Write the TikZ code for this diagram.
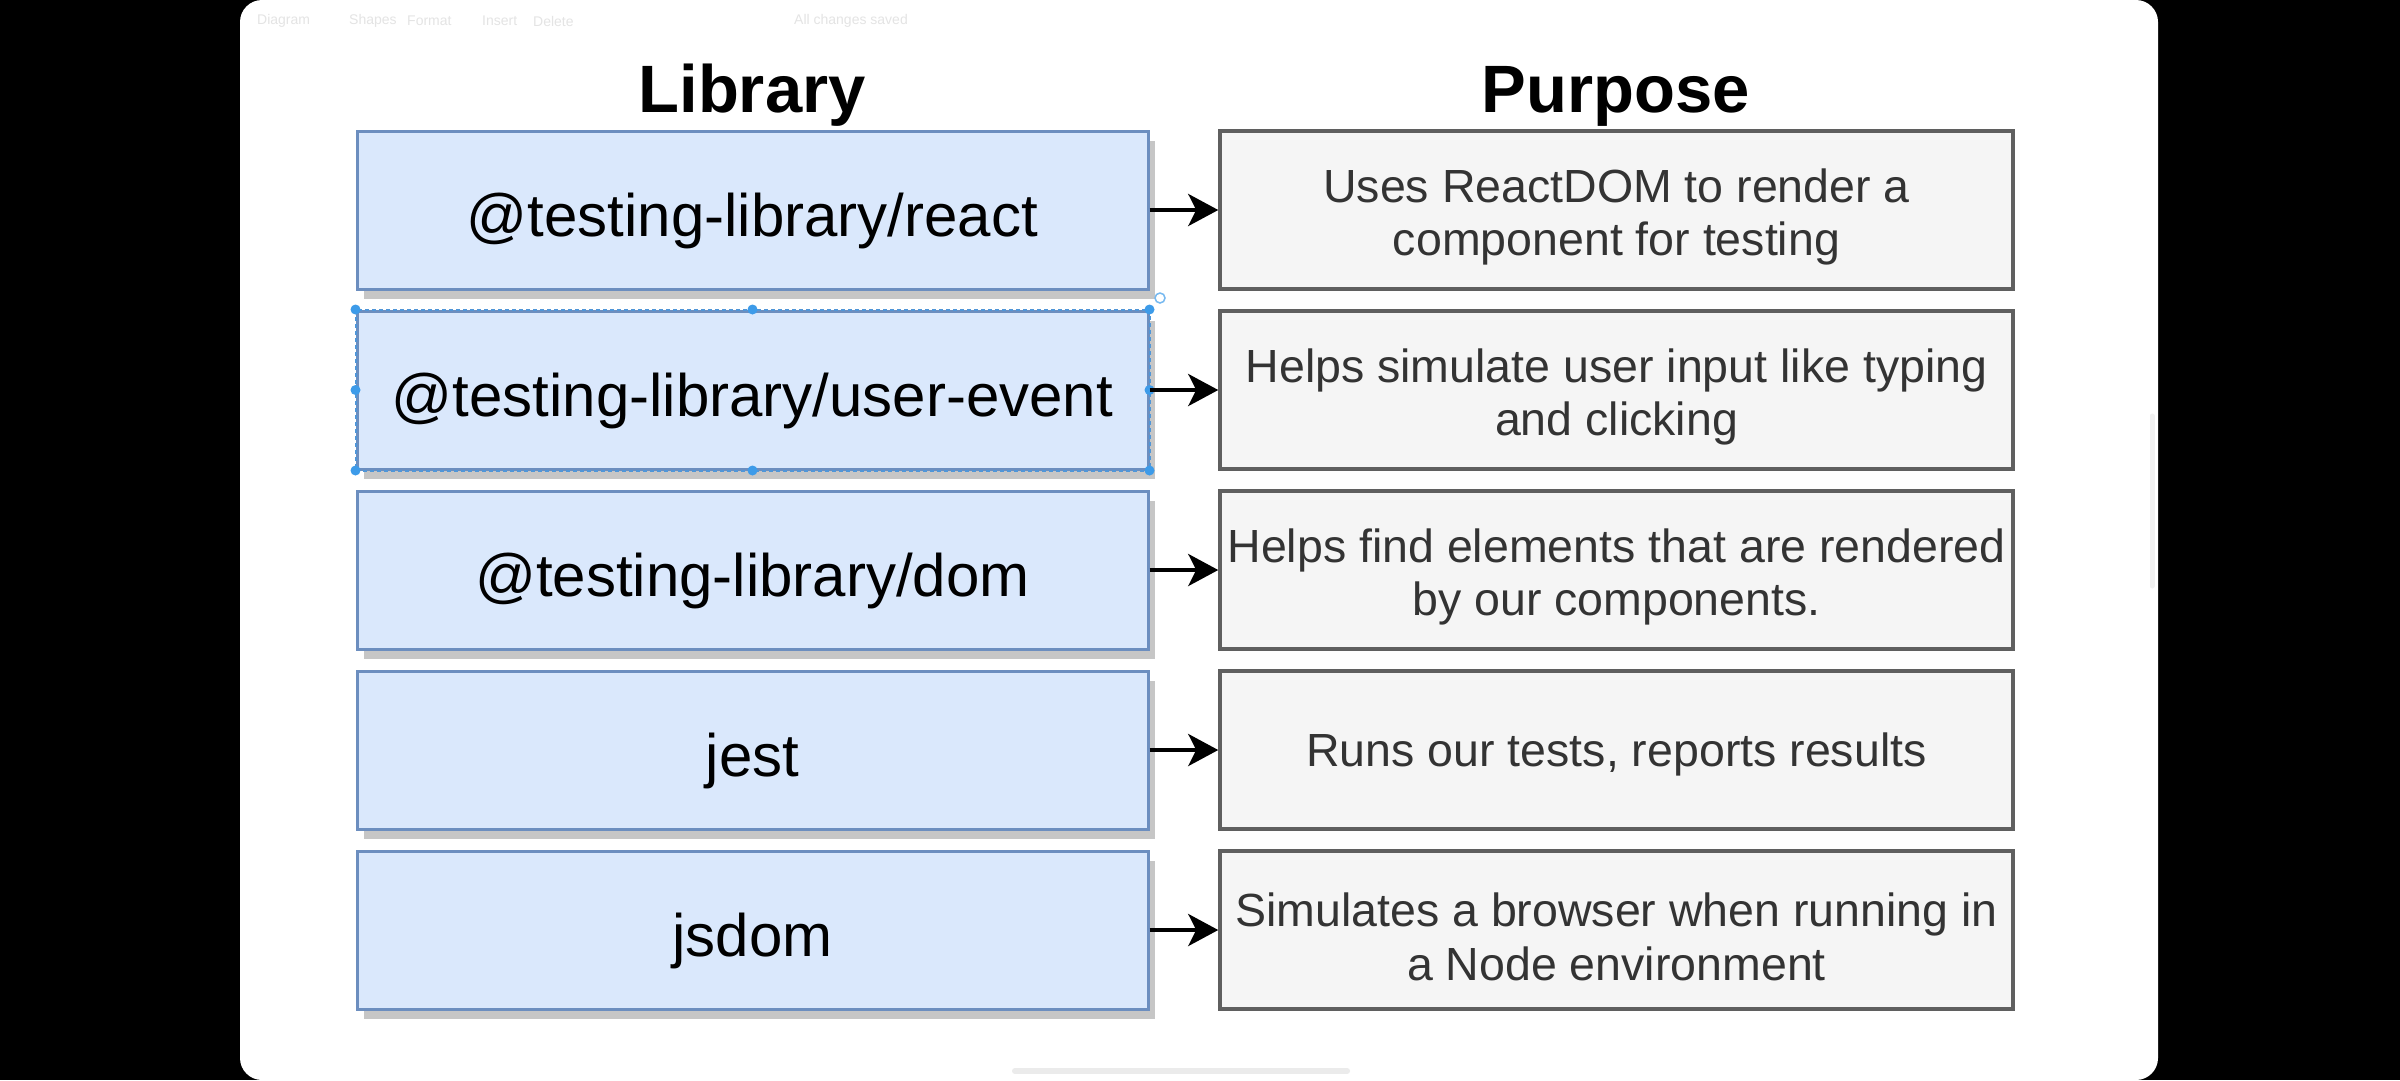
\documentclass[tikz,border=0pt]{standalone}
\usepackage{fontspec}
\setmainfont{Liberation Sans}
\usetikzlibrary{arrows.meta,shadows}
\definecolor{libfill}{HTML}{DAE8FC}
\definecolor{libdraw}{HTML}{6C8EBF}
\definecolor{purfill}{HTML}{F5F5F5}
\definecolor{purdraw}{HTML}{5F5F5F}
\definecolor{purtext}{HTML}{333333}
\definecolor{selblue}{HTML}{3D9BE9}
\definecolor{shade}{HTML}{C6C6C6}
\definecolor{uitext}{HTML}{E4E4E4}
\begin{document}
\begin{tikzpicture}[x=1pt,y=-1pt,
  libbox/.style={draw=libdraw, fill=libfill, line width=3pt, minimum width=791pt, minimum height=158pt,
    inner sep=0pt, font=\fontsize{60}{69}\selectfont, text height=52pt, text depth=0pt,
    drop shadow={shadow xshift=7pt, shadow yshift=-10pt, fill=shade, opacity=1}},
  purbox/.style={draw=purdraw, fill=purfill, line width=3.5pt, minimum width=793pt, minimum height=158pt,
    inner sep=0pt},
  purlabel/.style={inner sep=0pt, align=center, text=purtext, font=\fontsize{46.5}{53.5}\selectfont},
  header/.style={font=\bfseries\fontsize{67}{77}\selectfont, anchor=base},
  conn/.style={line width=4pt, -{Stealth[length=30pt,width=32pt,inset=8pt]}},
  uilabel/.style={text=uitext, font=\fontsize{14}{16}\selectfont, anchor=west, inner sep=0pt},
  handle/.style={fill=selblue},
]
% screen background
\fill[black] (0,0) rectangle (2400,1080);
\fill[white, rounded corners=22pt] (240,0) rectangle (2158,1080);
\useasboundingbox (0,0) rectangle (2400,1080);

% faint editor UI
\node[uilabel] (ui1) at (257,21) {Diagram};
\node[uilabel] (ui2) at (349,21) {Shapes};
\node[uilabel] (ui3) at (407,21) {Format};
\node[uilabel] (ui4) at (482,21) {Insert};
\node[uilabel] (ui5) at (533,21) {Delete};
\node[uilabel] (ui6) at (794,21) {All changes saved};
\draw[line width=6pt, black!8, line cap=round] (1015,1071) -- (1347,1071);
\draw[line width=5pt, black!6, line cap=round] (2152,416) -- (2152,586);

% headers
\node[header] (hlib) at (752,112) {Library};
\node[header] (hpur) at (1616,112) {Purpose};

% library boxes
\node[libbox] (L1) at (752.5,210) {@testing-library/react};
\node[libbox] (L2) at (752.5,390) {@testing-library/user-event};
\node[libbox] (L3) at (752.5,570) {@testing-library/dom};
\node[libbox] (L4) at (752.5,750) {jest};
\node[libbox] (L5) at (752.5,930) {jsdom};

% purpose boxes
\node[purbox] (R1) at (1616.5,210) {};
\node[purbox] (R2) at (1616.5,390) {};
\node[purbox] (R3) at (1616.5,570) {};
\node[purbox] (R4) at (1616.5,750) {};
\node[purbox] (R5) at (1616.5,930) {};
\node[purlabel] (T1) at ([yshift=-7pt]R1.center) {Uses ReactDOM to render a\\component for testing};
\node[purlabel] (T2) at ([yshift=-7pt]R2.center) {Helps simulate user input like typing\\and clicking};
\node[purlabel] (T3) at ([yshift=-7pt]R3.center) {Helps find elements that are rendered\\by our components.};
\node[purlabel] (T4) at ([yshift=-4pt]R4.center) {Runs our tests, reports results};
\node[purlabel] (T5) at ([yshift=-7pt]R5.center) {Simulates a browser when running in\\a Node environment};

% selection of row 2
\draw[selblue!60!libdraw, line width=2pt, dash pattern=on 4pt off 3pt] (L2.north west) rectangle (L2.south east);
\foreach \a in {north west,north,north east,west,east,south west,south,south east}
  \fill[handle] (L2.\a) circle (5pt);
\draw[selblue!70, line width=1.5pt] (1160,298) circle (5pt);

% connectors
\draw[conn] (L1.east) -- (R1.west);
\draw[conn] (L2.east) -- (R2.west);
\draw[conn] (L3.east) -- (R3.west);
\draw[conn] (L4.east) -- (R4.west);
\draw[conn] (L5.east) -- (R5.west);
\end{tikzpicture}
\end{document}
